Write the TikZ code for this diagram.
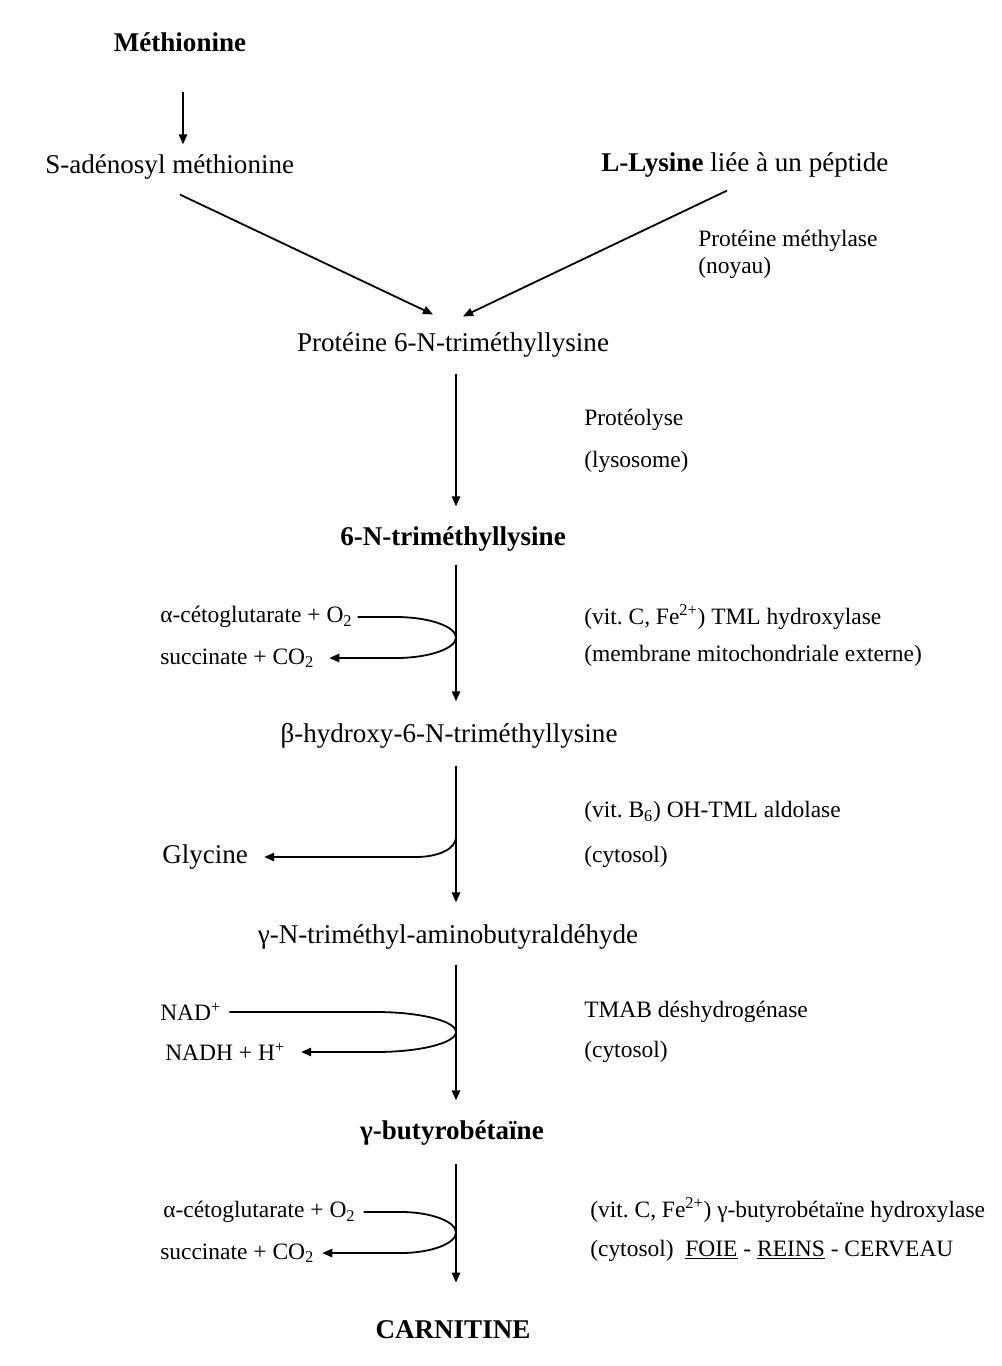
\documentclass[tikz,border=0pt]{standalone}
\usepackage{fontspec}
\setmainfont{Liberation Serif}
\usetikzlibrary{arrows.meta,calc}
\tikzset{
  main/.style={inner sep=0pt, font=\fontsize{20.3pt}{24pt}\selectfont},
  side/.style={inner sep=0pt, anchor=west, font=\fontsize{17.6pt}{21pt}\selectfont},
  mainbold/.style={main, font=\fontsize{20.3pt}{24pt}\selectfont\bfseries},
  arr/.style={line width=1.35pt, -{Triangle[length=7.5pt,width=6.2pt]}},
  ln/.style={line width=1.35pt}
}
\begin{document}
\frenchspacing
\begin{tikzpicture}[x=0.75pt,y=-0.75pt]
\fill[white] (0,0) rectangle (1002,1366);
\useasboundingbox (0,0) rectangle (1002,1366);
\coordinate (ax) at (456,0);

% top part
\node[mainbold] (met) at (180,42) {Méthionine};
\node[main, anchor=west] (sam) at (45,167) {S-adénosyl méthionine};
\node[main, anchor=west] (lys) at (601,165) {\textbf{L-Lysine} liée à un péptide};
\node[side] (pm1) at (698,241) {Protéine méthylase};
\node[side] (pm2) at (698,268) {(noyau)};
\node[main] (p6) at (453,345) {Protéine 6-N-triméthyllysine};

\draw[arr] ($(met.south)+(3,40)$) -- ($(sam.north west)+(138,-10)$);
\draw[arr] ($(sam.south west)+(135,15)$) -- ($(p6.north)+(-20,-18)$);
\draw[arr] ($(lys.south west)+(126,13)$) -- ($(p6.north)+(10,-16)$);

% step 1
\node[side] (e1a) at (584,420) {Protéolyse};
\node[side] (e1b) at (584,462) {(lysosome)};
\node[mainbold] (t6) at (453,539) {6-N-triméthyllysine};
\draw[arr] ($(p6.south -| ax)+(0,16)$) -- ($(t6.north -| ax)+(0,-20)$);

% step 2
\node[side] (a1) at (160,617) {α-cétoglutarate + O\textsubscript{2}};
\node[side] (s1) at (160,658) {succinate + CO\textsubscript{2}};
\node[side] (e2a) at (584,617) {(vit. C, Fe\textsuperscript{2+}) TML hydroxylase};
\node[side] (e2b) at (584,656) {(membrane mitochondriale externe)};
\node[main] (bh) at (449,736) {β-hydroxy-6-N-triméthyllysine};
\draw[arr] ($(t6.south -| ax)+(0,13)$) -- ($(bh.north -| ax)+(0,-22)$);
\coordinate (m1) at ($(a1.east)!0.5!(s1.east)$);
\coordinate (j1) at (m1 -| ax);
\draw[arr] ($(a1.east)+(5,0)$) -- ($(a1.east -| ax)+(-60,0)$) .. controls ($(a1.east -| ax)+(-27,0)$) and ($(j1)+(0,-11)$) .. (j1)
  .. controls ($(j1)+(0,11)$) and ($(s1.east -| ax)+(-27,0)$) .. ($(s1.east -| ax)+(-60,0)$) -- ($(s1.east)+(15,0)$);

% step 3
\node[main, anchor=west] (gly) at (162,857) {Glycine};
\node[side] (e3a) at (584,812) {(vit. B\textsubscript{6}) OH-TML aldolase};
\node[side] (e3b) at (584,857) {(cytosol)};
\node[main] (ga) at (448,937) {γ-N-triméthyl-aminobutyraldéhyde};
\draw[arr] ($(bh.south -| ax)+(0,17)$) -- ($(ga.north -| ax)+(0,-22)$);
\coordinate (j2) at ($(gly.east -| ax)+(0,-20)$);
\draw[arr] (j2) .. controls ($(j2)+(0,12)$) and ($(gly.east -| ax)+(-18,0)$) .. ($(gly.east -| ax)+(-40,0)$) -- ($(gly.east)+(16,0)$);

% step 4
\node[side] (n1) at (160,1012) {NAD\textsuperscript{+}};
\node[side] (n2) at (165,1052) {NADH + H\textsuperscript{+}};
\node[side] (e4a) at (584,1012) {TMAB déshydrogénase};
\node[side] (e4b) at (584,1052) {(cytosol)};
\node[mainbold] (gb) at (452,1133) {γ-butyrobétaïne};
\draw[arr] ($(ga.south -| ax)+(0,15)$) -- ($(gb.north -| ax)+(0,-20)$);
\coordinate (m3) at ($(n1.east)!0.5!(n2.east)$);
\coordinate (j3) at (m3 -| ax);
\draw[arr] ($(n1.east)+(8,0)$) -- ($(n1.east -| ax)+(-80,0)$) .. controls ($(n1.east -| ax)+(-36,0)$) and ($(j3)+(0,-11)$) .. (j3)
  .. controls ($(j3)+(0,11)$) and ($(n2.east -| ax)+(-36,0)$) .. ($(n2.east -| ax)+(-80,0)$) -- ($(n2.east)+(16,0)$);

% step 5
\node[side] (a2) at (163,1212) {α-cétoglutarate + O\textsubscript{2}};
\node[side] (s2) at (160,1253) {succinate + CO\textsubscript{2}};
\node[side] (e5a) at (590,1210) {(vit. C, Fe\textsuperscript{2+}) γ-butyrobétaïne hydroxylase};
\node[side] (e5b) at (590,1251) {(cytosol)\enspace\underline{FOIE} - \underline{REINS} - CERVEAU};
\node[mainbold] (car) at (453,1330) {CARNITINE};
\draw[arr] ($(gb.south -| ax)+(0,18)$) -- ($(car.north -| ax)+(0,-38)$);
\coordinate (m4) at ($(a2.east)!0.5!(s2.east)$);
\coordinate (j4) at (m4 -| ax);
\draw[arr] ($(a2.east)+(8,0)$) -- ($(a2.east -| ax)+(-55,0)$) .. controls ($(a2.east -| ax)+(-25,0)$) and ($(j4)+(0,-11)$) .. (j4)
  .. controls ($(j4)+(0,11)$) and ($(s2.east -| ax)+(-25,0)$) .. ($(s2.east -| ax)+(-55,0)$) -- ($(s2.east)+(8,0)$);
\end{tikzpicture}
\end{document}
